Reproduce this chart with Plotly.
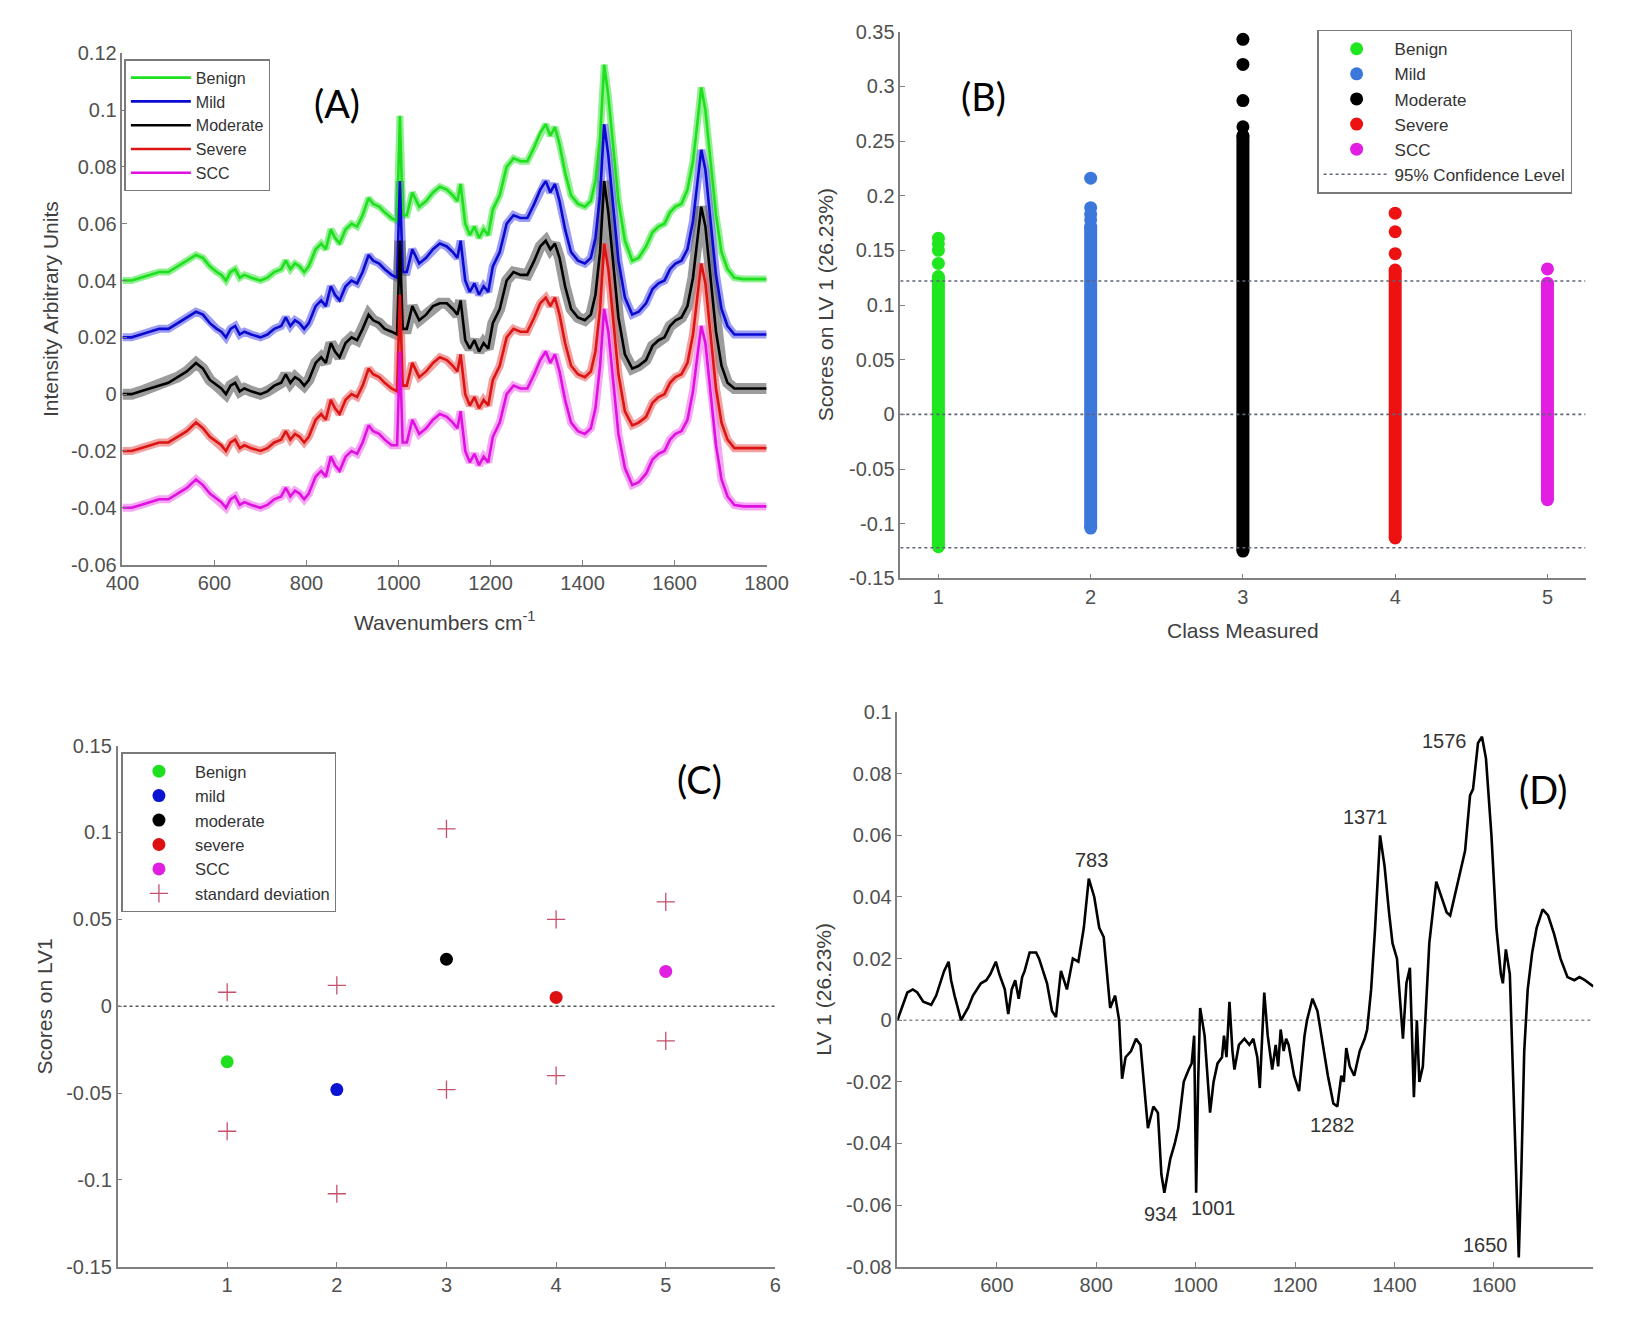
import plotly.graph_objects as go

# ---------------- Panel A : mean spectra ----------------
wavenumber = [400, 420, 440, 460, 480, 500, 520, 540, 560,
              575, 590, 605, 615, 625, 635, 645, 655, 665, 680,
              700, 715, 730, 745, 755, 765, 775, 785, 795, 805,
              820, 832, 842, 853, 862, 872, 885, 898, 910, 922,
              935, 945, 958, 970, 985, 997, 1003, 1009, 1018, 1030,
              1045, 1060, 1075, 1090, 1105, 1118, 1128, 1135, 1145, 1155,
              1165, 1175, 1185, 1195, 1205, 1220, 1235, 1250, 1265, 1280,
              1295, 1308, 1320, 1330, 1340, 1350, 1362, 1375, 1390, 1405,
              1418, 1428, 1438, 1447, 1456, 1466, 1478, 1492, 1508, 1522,
              1538, 1552, 1565, 1578, 1590, 1602, 1615, 1628, 1640, 1650,
              1658, 1667, 1678, 1690, 1702, 1715, 1730, 1750, 1775, 1800]

benign = [0.040, 0.040, 0.041, 0.042, 0.043, 0.043, 0.045, 0.047, 0.049,
          0.048, 0.045, 0.043, 0.042, 0.040, 0.043, 0.044, 0.041, 0.042, 0.041,
          0.040, 0.041, 0.043, 0.044, 0.047, 0.044, 0.046, 0.045, 0.043, 0.045,
          0.051, 0.053, 0.051, 0.058, 0.055, 0.053, 0.058, 0.060, 0.059, 0.063,
          0.069, 0.067, 0.066, 0.064, 0.062, 0.061, 0.098, 0.063, 0.063, 0.071,
          0.066, 0.068, 0.071, 0.073, 0.072, 0.070, 0.068, 0.074, 0.060, 0.056,
          0.059, 0.055, 0.058, 0.056, 0.065, 0.070, 0.080, 0.083, 0.082, 0.082,
          0.087, 0.092, 0.095, 0.091, 0.094, 0.088, 0.078, 0.070, 0.067, 0.066,
          0.068, 0.075, 0.090, 0.116, 0.105, 0.088, 0.068, 0.054, 0.047, 0.048,
          0.052, 0.057, 0.059, 0.060, 0.064, 0.066, 0.067, 0.072, 0.082, 0.096,
          0.108, 0.100, 0.082, 0.063, 0.050, 0.044, 0.041, 0.0405, 0.0405, 0.0405]

mild = [0.020, 0.020, 0.021, 0.022, 0.023, 0.023, 0.025, 0.027, 0.029,
        0.028, 0.025, 0.023, 0.022, 0.020, 0.023, 0.024, 0.021, 0.022, 0.021,
        0.020, 0.021, 0.023, 0.024, 0.027, 0.024, 0.026, 0.025, 0.023, 0.025,
        0.031, 0.033, 0.031, 0.038, 0.035, 0.033, 0.038, 0.040, 0.039, 0.043,
        0.049, 0.047, 0.046, 0.044, 0.042, 0.041, 0.075, 0.043, 0.043, 0.051,
        0.046, 0.048, 0.051, 0.053, 0.052, 0.050, 0.048, 0.054, 0.040, 0.036,
        0.039, 0.035, 0.038, 0.036, 0.045, 0.050, 0.060, 0.063, 0.062, 0.062,
        0.067, 0.072, 0.075, 0.071, 0.074, 0.068, 0.058, 0.050, 0.047, 0.046,
        0.048, 0.055, 0.070, 0.095, 0.084, 0.067, 0.047, 0.034, 0.028, 0.029,
        0.032, 0.037, 0.039, 0.040, 0.044, 0.046, 0.047, 0.051, 0.061, 0.075,
        0.086, 0.079, 0.061, 0.042, 0.030, 0.024, 0.021, 0.021, 0.021, 0.021]

moderate = [0.000, 0.000, 0.001, 0.002, 0.003, 0.004, 0.006, 0.008, 0.011,
            0.009, 0.005, 0.003, 0.002, 0.000, 0.003, 0.004, 0.001, 0.002, 0.001,
            0.000, 0.001, 0.003, 0.004, 0.007, 0.004, 0.006, 0.005, 0.003, 0.005,
            0.011, 0.013, 0.011, 0.018, 0.015, 0.013, 0.018, 0.020, 0.019, 0.023,
            0.028, 0.026, 0.025, 0.023, 0.022, 0.021, 0.054, 0.023, 0.023, 0.031,
            0.026, 0.028, 0.031, 0.032, 0.032, 0.030, 0.028, 0.033, 0.019, 0.016,
            0.019, 0.015, 0.018, 0.016, 0.025, 0.030, 0.040, 0.043, 0.042, 0.042,
            0.047, 0.052, 0.054, 0.051, 0.053, 0.048, 0.038, 0.030, 0.027, 0.026,
            0.028, 0.035, 0.050, 0.075, 0.064, 0.047, 0.027, 0.014, 0.009, 0.010,
            0.012, 0.017, 0.019, 0.020, 0.024, 0.026, 0.027, 0.031, 0.041, 0.055,
            0.066, 0.059, 0.041, 0.022, 0.010, 0.004, 0.002, 0.002, 0.002, 0.002]

severe = [-0.020, -0.020, -0.019, -0.018, -0.017, -0.017, -0.015, -0.013, -0.010,
          -0.012, -0.015, -0.017, -0.018, -0.020, -0.017, -0.016, -0.019, -0.018, -0.019,
          -0.020, -0.019, -0.017, -0.016, -0.013, -0.016, -0.014, -0.015, -0.017, -0.015,
          -0.009, -0.007, -0.009, -0.002, -0.005, -0.007, -0.002, 0.000, -0.001, 0.003,
          0.009, 0.007, 0.006, 0.004, 0.002, 0.001, 0.035, 0.003, 0.003, 0.011,
          0.006, 0.008, 0.011, 0.013, 0.012, 0.010, 0.008, 0.014, 0.000, -0.004,
          -0.001, -0.005, -0.002, -0.004, 0.005, 0.010, 0.020, 0.023, 0.022, 0.022,
          0.027, 0.032, 0.034, 0.031, 0.034, 0.028, 0.018, 0.010, 0.007, 0.006,
          0.008, 0.015, 0.030, 0.053, 0.044, 0.027, 0.007, -0.006, -0.011, -0.010,
          -0.008, -0.003, -0.001, 0.000, 0.004, 0.006, 0.007, 0.011, 0.021, 0.035,
          0.046, 0.039, 0.021, 0.002, -0.010, -0.016, -0.019, -0.019, -0.019, -0.019]

scc = [-0.040, -0.040, -0.039, -0.038, -0.037, -0.037, -0.035, -0.033, -0.030,
       -0.032, -0.035, -0.037, -0.038, -0.040, -0.037, -0.036, -0.039, -0.038, -0.039,
       -0.040, -0.039, -0.037, -0.036, -0.033, -0.036, -0.034, -0.035, -0.037, -0.035,
       -0.029, -0.027, -0.029, -0.022, -0.025, -0.027, -0.022, -0.020, -0.021, -0.017,
       -0.011, -0.013, -0.014, -0.016, -0.018, -0.018, 0.015, -0.017, -0.017, -0.009,
       -0.014, -0.012, -0.009, -0.007, -0.008, -0.010, -0.012, -0.006, -0.020, -0.024,
       -0.021, -0.025, -0.022, -0.024, -0.015, -0.010, 0.000, 0.003, 0.002, 0.002,
       0.007, 0.012, 0.015, 0.011, 0.014, 0.008, -0.002, -0.010, -0.013, -0.014,
       -0.012, -0.005, 0.010, 0.030, 0.022, 0.006, -0.014, -0.026, -0.032, -0.031,
       -0.028, -0.023, -0.021, -0.020, -0.016, -0.014, -0.013, -0.009, 0.001, 0.014,
       0.024, 0.018, 0.001, -0.018, -0.030, -0.036, -0.039, -0.0395, -0.0395, -0.0395]

spectra_names = ["Benign", "Mild", "Moderate", "Severe", "SCC"]
spectra_values = [benign, mild, moderate, severe, scc]
a_xticks = [400, 600, 800, 1000, 1200, 1400, 1600, 1800]
a_yticks = [-0.06, -0.04, -0.02, 0, 0.02, 0.04, 0.06, 0.08, 0.1, 0.12]
a_yticklabels = ["-0.06", "-0.04", "-0.02", "0", "0.02", "0.04", "0.06", "0.08", "0.1", "0.12"]

# ---------------- Panel B : LV1 scores per class ----------------
b_classes = [1, 2, 3, 4, 5]
b_names = ["Benign", "Mild", "Moderate", "Severe", "SCC"]
b_low = [-0.121, -0.104, -0.125, -0.113, -0.078]
b_high = [0.126, 0.172, 0.255, 0.132, 0.120]
b_outliers = [[0.138, 0.150, 0.156, 0.161],
              [0.178, 0.183, 0.189, 0.216],
              [0.263, 0.287, 0.320, 0.343],
              [0.147, 0.167, 0.184],
              [0.133]]
b_conf_limit = 0.122
b_yticks = [-0.15, -0.1, -0.05, 0, 0.05, 0.1, 0.15, 0.2, 0.25, 0.3, 0.35]
b_yticklabels = ["-0.15", "-0.1", "-0.05", "0", "0.05", "0.1", "0.15", "0.2", "0.25", "0.3", "0.35"]

# ---------------- Panel C : class means and standard deviation ----------------
c_classes = [1, 2, 3, 4, 5]
c_names = ["Benign", "mild", "moderate", "severe", "SCC"]
c_mean = [-0.032, -0.048, 0.027, 0.005, 0.020]
c_sd_upper = [0.008, 0.012, 0.102, 0.050, 0.060]
c_sd_lower = [-0.072, -0.108, -0.048, -0.040, -0.020]
c_xticks = [1, 2, 3, 4, 5, 6]
c_yticks = [-0.15, -0.1, -0.05, 0, 0.05, 0.1, 0.15]
c_yticklabels = ["-0.15", "-0.1", "-0.05", "0", "0.05", "0.1", "0.15"]

# ---------------- Panel D : LV1 loadings ----------------
d_wn = [400, 407, 420, 431, 440, 452, 468, 478, 489, 494, 503, 508, 515, 528, 542, 552, 568, 579, 587, 598,
        605, 616, 623, 630, 637, 644, 651, 656, 666, 679, 685, 701, 711, 719, 729, 741, 753, 764, 775, 785,
        796, 806, 815, 822, 828, 838, 846, 852, 859, 870, 880, 889, 896, 904, 915, 924, 931, 937, 949, 958,
        965, 976, 986, 992, 997, 1001, 1005, 1009, 1018, 1029, 1036, 1044, 1053, 1057, 1062, 1068, 1074, 1078, 1087, 1098,
        1108, 1116, 1124, 1129, 1138, 1145, 1154, 1161, 1166, 1171, 1177, 1182, 1187, 1198, 1208, 1219, 1224, 1235, 1245, 1256,
        1266, 1277, 1285, 1293, 1298, 1303, 1310, 1319, 1330, 1340, 1345, 1353, 1361, 1371, 1380, 1389, 1396, 1405, 1410, 1417,
        1424, 1431, 1439, 1445, 1450, 1457, 1462, 1470, 1484, 1494, 1505, 1512, 1521, 1531, 1542, 1552, 1558, 1568, 1576, 1584,
        1595, 1605, 1614, 1618, 1624, 1632, 1637, 1644, 1650, 1655, 1661, 1668, 1677, 1686, 1698, 1709, 1721, 1734, 1748, 1762,
        1772, 1783, 1800]
d_lv1 = [0.000, 0.003, 0.009, 0.010, 0.009, 0.006, 0.005, 0.008, 0.013, 0.016, 0.019, 0.013, 0.008, 0.000, 0.004, 0.008, 0.012, 0.013, 0.015, 0.019,
         0.015, 0.010, 0.002, 0.010, 0.013, 0.007, 0.014, 0.016, 0.022, 0.022, 0.020, 0.012, 0.003, 0.001, 0.016, 0.010, 0.020, 0.019, 0.030, 0.046,
         0.040, 0.030, 0.027, 0.015, 0.004, 0.008, 0.000, -0.019, -0.012, -0.010, -0.006, -0.008, -0.020, -0.035, -0.028, -0.030, -0.050, -0.056, -0.045, -0.040,
         -0.035, -0.020, -0.016, -0.014, -0.005, -0.056, -0.020, 0.004, -0.005, -0.030, -0.020, -0.014, -0.012, -0.005, -0.012, 0.006, -0.010, -0.016, -0.008, -0.006,
         -0.008, -0.006, -0.012, -0.022, 0.009, -0.005, -0.016, -0.008, -0.015, -0.003, -0.010, -0.006, -0.008, -0.018, -0.023, -0.005, 0.000, 0.007, 0.003, -0.008,
         -0.018, -0.027, -0.028, -0.018, -0.020, -0.009, -0.015, -0.018, -0.010, -0.006, -0.003, 0.010, 0.030, 0.060, 0.050, 0.035, 0.025, 0.020, 0.010, -0.006,
         0.012, 0.017, -0.025, 0.000, -0.020, -0.015, 0.000, 0.025, 0.045, 0.040, 0.035, 0.034, 0.040, 0.047, 0.055, 0.073, 0.075, 0.090, 0.092, 0.085,
         0.060, 0.030, 0.015, 0.012, 0.023, 0.015, -0.010, -0.045, -0.077, -0.050, -0.010, 0.010, 0.022, 0.030, 0.036, 0.034, 0.028, 0.020, 0.014, 0.013,
         0.014, 0.013, 0.011]
d_peak_labels = ["783", "934", "1001", "1282", "1371", "1576", "1650"]
d_label_x = [790, 930, 1036, 1276, 1342, 1500, 1584]
d_label_y = [0.052, -0.063, -0.061, -0.034, 0.066, 0.0905, -0.073]
d_xticks = [600, 800, 1000, 1200, 1400, 1600]
d_yticks = [-0.08, -0.06, -0.04, -0.02, 0, 0.02, 0.04, 0.06, 0.08, 0.1]
d_yticklabels = ["-0.08", "-0.06", "-0.04", "-0.02", "0", "0.02", "0.04", "0.06", "0.08", "0.1"]

# ---------------- styling ----------------
W, H = 1629, 1321
FONT = "Liberation Sans, Arial, sans-serif"
TICK_COLOR = "#505050"
AXIS_COLOR = "#808080"
TICK_SIZE = 20
TITLE_SIZE = 21

a_line_colors = ["#1fe01f", "#0a0ad0", "#000000", "#dc1414", "#e010e0"]
a_band_colors = ["rgba(110,235,110,0.75)", "rgba(90,90,235,0.6)", "rgba(90,90,90,0.6)",
                 "rgba(235,110,110,0.65)", "rgba(240,120,240,0.65)"]
a_band_widths = [7, 8, 11, 8, 8]
b_colors = ["#1fe61f", "#3c78dc", "#000000", "#ee1111", "#e21ee2"]
c_colors = ["#1fe01f", "#0a14d2", "#000000", "#dd1111", "#e020e0"]
sd_color = "#c4506c"

fig = go.Figure()

# Panel A
for name, vals, lc, bc, bw in zip(spectra_names, spectra_values, a_line_colors, a_band_colors, a_band_widths):
    fig.add_trace(go.Scatter(x=wavenumber, y=vals, mode="lines", line=dict(color=bc, width=bw),
                             showlegend=False, hoverinfo="skip", xaxis="x", yaxis="y"))
for name, vals, lc in zip(spectra_names, spectra_values, a_line_colors):
    fig.add_trace(go.Scatter(x=wavenumber, y=vals, mode="lines", name=name,
                             line=dict(color=lc, width=2.6), xaxis="x", yaxis="y", legend="legend"))

# Panel B
for k, lo, hi, col in zip(b_classes, b_low, b_high, b_colors):
    fig.add_trace(go.Scatter(x=[k, k], y=[lo, hi], mode="lines+markers",
                             line=dict(color=col, width=13), marker=dict(color=col, size=13),
                             showlegend=False, xaxis="x2", yaxis="y2"))
for k, name, outs, col in zip(b_classes, b_names, b_outliers, b_colors):
    fig.add_trace(go.Scatter(x=[k] * len(outs), y=outs, mode="markers", name=name,
                             marker=dict(color=col, size=13), xaxis="x2", yaxis="y2", legend="legend2"))
fig.add_trace(go.Scatter(x=[0.75, 5.25, None, 0.75, 5.25, None, 0.75, 5.25],
                         y=[b_conf_limit, b_conf_limit, None, 0, 0, None, -b_conf_limit, -b_conf_limit],
                         mode="lines", name="95% Confidence Level",
                         line=dict(color="#5f6678", width=1.6, dash="dot"),
                         xaxis="x2", yaxis="y2", legend="legend2"))

# Panel C
fig.add_trace(go.Scatter(x=[0, 6], y=[0, 0], mode="lines", line=dict(color="#555555", width=1.5, dash="dot"),
                         showlegend=False, xaxis="x3", yaxis="y3"))
for k, name, m, col in zip(c_classes, c_names, c_mean, c_colors):
    fig.add_trace(go.Scatter(x=[k], y=[m], mode="markers", name=name,
                             marker=dict(color=col, size=13), xaxis="x3", yaxis="y3", legend="legend3"))
fig.add_trace(go.Scatter(x=c_classes + c_classes, y=c_sd_upper + c_sd_lower, mode="markers",
                         name="standard deviation",
                         marker=dict(symbol="cross-thin", size=13, line=dict(color=sd_color, width=1.3)),
                         xaxis="x3", yaxis="y3", legend="legend3"))

# Panel D
fig.add_trace(go.Scatter(x=[400, 1800], y=[0, 0], mode="lines", line=dict(color="#8a8a8a", width=1.6, dash="dot"),
                         showlegend=False, xaxis="x4", yaxis="y4"))
fig.add_trace(go.Scatter(x=d_wn, y=d_lv1, mode="lines", line=dict(color="#000000", width=2.6),
                         showlegend=False, xaxis="x4", yaxis="y4"))

annotations = []
for t, lx, ly in zip(d_peak_labels, d_label_x, d_label_y):
    annotations.append(dict(x=lx, y=ly, xref="x4", yref="y4", text=t, showarrow=False,
                            font=dict(family=FONT, size=20, color="#333333")))


def px(xp, yp):
    return xp / W, 1 - yp / H


def paper_text(text, xp, yp, size=TITLE_SIZE, angle=0, color="#404040", family=FONT):
    x, y = px(xp, yp)
    annotations.append(dict(x=x, y=y, xref="paper", yref="paper", text=text, showarrow=False,
                            textangle=angle, xanchor="center", yanchor="middle",
                            font=dict(family=family, size=size, color=color)))


paper_text("Wavenumbers cm<sup>-1</sup>", 438, 620)
paper_text("Intensity Arbitrary Units", 35, 303, angle=-90)
paper_text("Class Measured", 1256, 630)
paper_text("Scores on LV 1 (26.23%)", 828, 299, angle=-90)
paper_text("Scores on LV1", 28, 1012, angle=-90)
paper_text("LV 1 (26.23%)", 826, 995, angle=-90)
PANEL_FONT = "Lato, Open Sans, sans-serif"
paper_text("(A)", 328, 94, size=38, color="#000000", family=PANEL_FONT)
paper_text("(B)", 990, 86, size=38, color="#000000", family=PANEL_FONT)
paper_text("(C)", 699, 781, size=38, color="#000000", family=PANEL_FONT)
paper_text("(D)", 1563, 791, size=38, color="#000000", family=PANEL_FONT)


def axis(domain_px, rng, tickvals, ticktext=None, anchor=None, horizontal=True):
    if horizontal:
        dom = [domain_px[0] / W, domain_px[1] / W]
    else:
        dom = [1 - domain_px[1] / H, 1 - domain_px[0] / H]
    d = dict(domain=dom, range=rng, tickvals=tickvals, showgrid=False, zeroline=False,
             showline=True, linecolor=AXIS_COLOR, linewidth=1.5, ticks="inside", ticklen=5,
             tickcolor=AXIS_COLOR, tickwidth=1.2, tickfont=dict(family=FONT, size=TICK_SIZE, color=TICK_COLOR),
             anchor=anchor, fixedrange=True)
    if ticktext is not None:
        d["ticktext"] = ticktext
    return d


def legend_style(size):
    return dict(bgcolor="white", bordercolor="#7a7a7a", borderwidth=1.5,
                xanchor="left", yanchor="top", tracegroupgap=0,
                font=dict(family=FONT, size=size, color="#333333"))


fig.update_layout(
    width=W, height=H, margin=dict(l=0, r=0, t=0, b=0),
    paper_bgcolor="white", plot_bgcolor="white",
    xaxis=axis((108, 768), [400, 1800], a_xticks, [str(v) for v in a_xticks], anchor="y"),
    yaxis=axis((43, 563), [-0.06, 0.12], a_yticks, a_yticklabels, anchor="x", horizontal=False),
    xaxis2=axis((905, 1607), [0.75, 5.25], b_classes, [str(v) for v in b_classes], anchor="y2"),
    yaxis2=axis((21, 577), [-0.15, 0.35], b_yticks, b_yticklabels, anchor="x2", horizontal=False),
    xaxis3=axis((103, 777), [0, 6], c_xticks, [str(v) for v in c_xticks], anchor="y3"),
    yaxis3=axis((747, 1277), [-0.15, 0.15], c_yticks, c_yticklabels, anchor="x3", horizontal=False),
    xaxis4=axis((902, 1615), [400, 1800], d_xticks, [str(v) for v in d_xticks], anchor="y4"),
    yaxis4=axis((713, 1277), [-0.08, 0.1], d_yticks, d_yticklabels, anchor="x4", horizontal=False),
    legend=dict(x=110 / W, y=1 - 49 / H, itemwidth=60, **legend_style(16)),
    legend2=dict(x=1332 / W, y=1 - 19 / H, itemwidth=66, **legend_style(17)),
    legend3=dict(x=107 / W, y=1 - 754 / H, itemwidth=62, **legend_style(16.5)),
    annotations=annotations,
    showlegend=True,
)

fig.write_html("out.html", config={"displayModeBar": False},
               post_script="document.body.style.margin='0';document.body.style.overflow='hidden';")
